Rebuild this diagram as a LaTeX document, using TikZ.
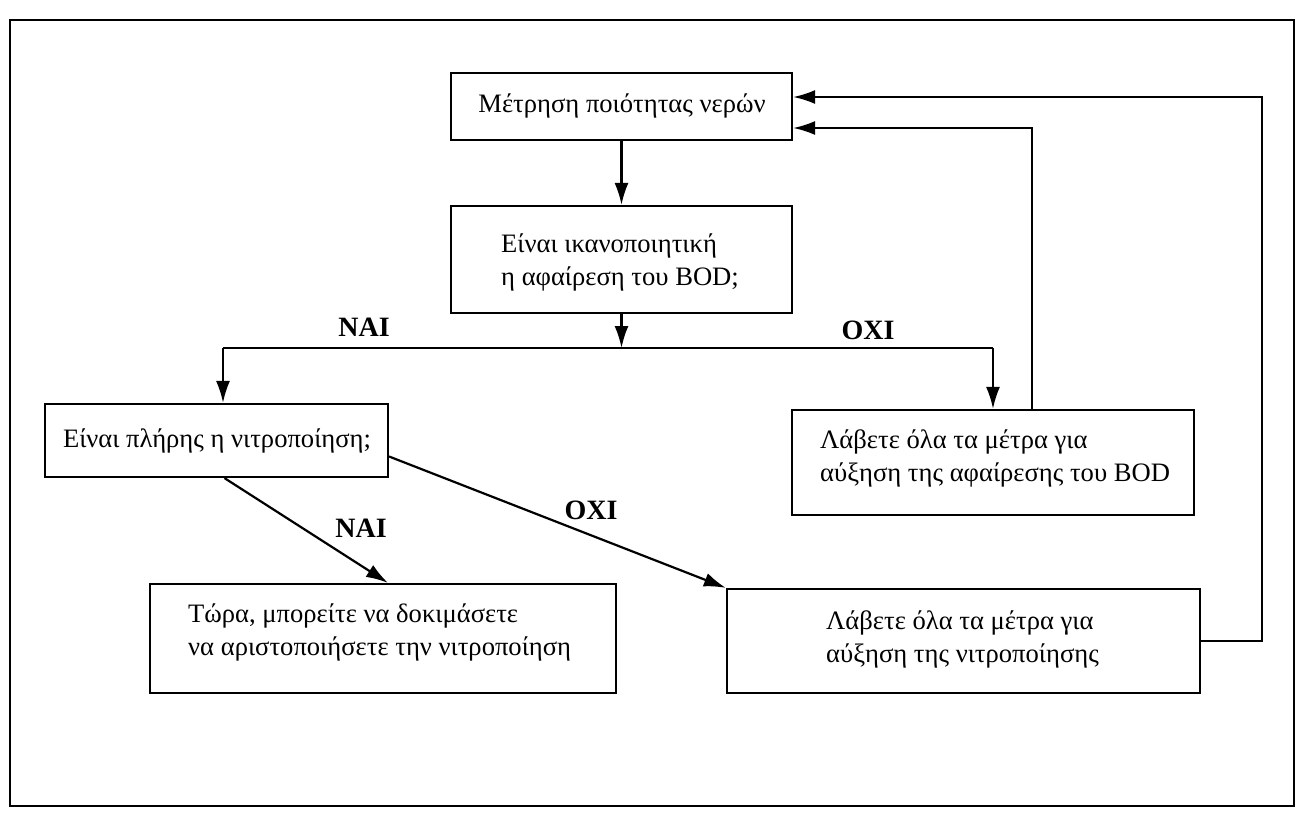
\documentclass[tikz,border=0pt]{standalone}
\usepackage{fontspec}
\setmainfont{Liberation Serif}
\usetikzlibrary{arrows.meta}
\begin{document}
\begin{tikzpicture}[x=1pt,y=-1pt,
  box/.style={draw, line width=2.2pt, inner sep=0pt, minimum width=#1},
  txt/.style={align=left, inner sep=0pt, font=\fontsize{26.6}{33}\selectfont},
  conn/.style={line width=2.2pt, -{Latex[length=22pt,width=14pt]}},
  lbl/.style={inner sep=0pt, font=\fontsize{28}{30}\selectfont\bfseries}]
\useasboundingbox (0,0) rectangle (1296,816);
\draw[line width=1.5pt] (10,20) rectangle (1294,806);
% boxes
\node[box=341pt, minimum height=67pt] (b1) at (621.5,106.5) {};
\node[box=341pt, minimum height=107pt] (b2) at (621.5,259.5) {};
\node[box=343pt, minimum height=73pt] (b3) at (216.5,440.5) {};
\node[box=402pt, minimum height=105pt] (b4) at (993,462.5) {};
\node[box=466pt, minimum height=109pt] (b5) at (383,638.5) {};
\node[box=473pt, minimum height=104pt] (b6) at (963.5,641) {};
% texts
\node[txt] (t1) at (622,106) {Μέτρηση ποιότητας νερών};
\node[txt, anchor=west] (t2) at (501,262) {Είναι ικανοποιητική\\η αφαίρεση του BOD;};
\node[txt] (t3) at (217,441) {Είναι πλήρης η νιτροποίηση;};
\node[txt, anchor=west] (t4) at (820,458) {Λάβετε όλα τα μέτρα για\\αύξηση της αφαίρεσης του BOD};
\node[txt, anchor=west] (t5) at (188,632) {Τώρα, μπορείτε να δοκιμάσετε\\να αριστοποιήσετε την νιτροποίηση};
\node[txt, anchor=west] (t6) at (826,639) {Λάβετε όλα τα μέτρα για\\αύξηση της νιτροποίησης};
% labels
\node[lbl] (l1) at (364,327) {ΝΑΙ};
\node[lbl] (l2) at (868,330) {ΟΧΙ};
\node[lbl] (l3) at (361,528) {ΝΑΙ};
\node[lbl] (l4) at (591,510) {ΟΧΙ};
% connectors
\coordinate (j) at (621.5,348);
\coordinate (jl) at (223,348);
\coordinate (jr) at (993,348);
\coordinate (f1) at (1032,128);
\coordinate (f2) at (1262,97);
\draw[conn] (b1.south) -- (b2.north);
\draw[conn] (b2.south) -- (j);
\draw[line width=2.2pt] (jl) -- (jr);
\draw[conn] (jl) -- (jl |- b3.north);
\draw[conn] (jr) -- (jr |- b4.north);
\draw[conn] (b4.north -| f1) -- (f1) -- (f1 -| b1.east);
\draw[conn] (b6.east) -| (f2) -- (f2 -| b1.east);
\draw[conn] ([xshift=8pt]b3.south) -- ([xshift=5pt]b5.north);
\draw[conn] ([yshift=-16pt]b3.east) -- (b6.north west);
\end{tikzpicture}
\end{document}
